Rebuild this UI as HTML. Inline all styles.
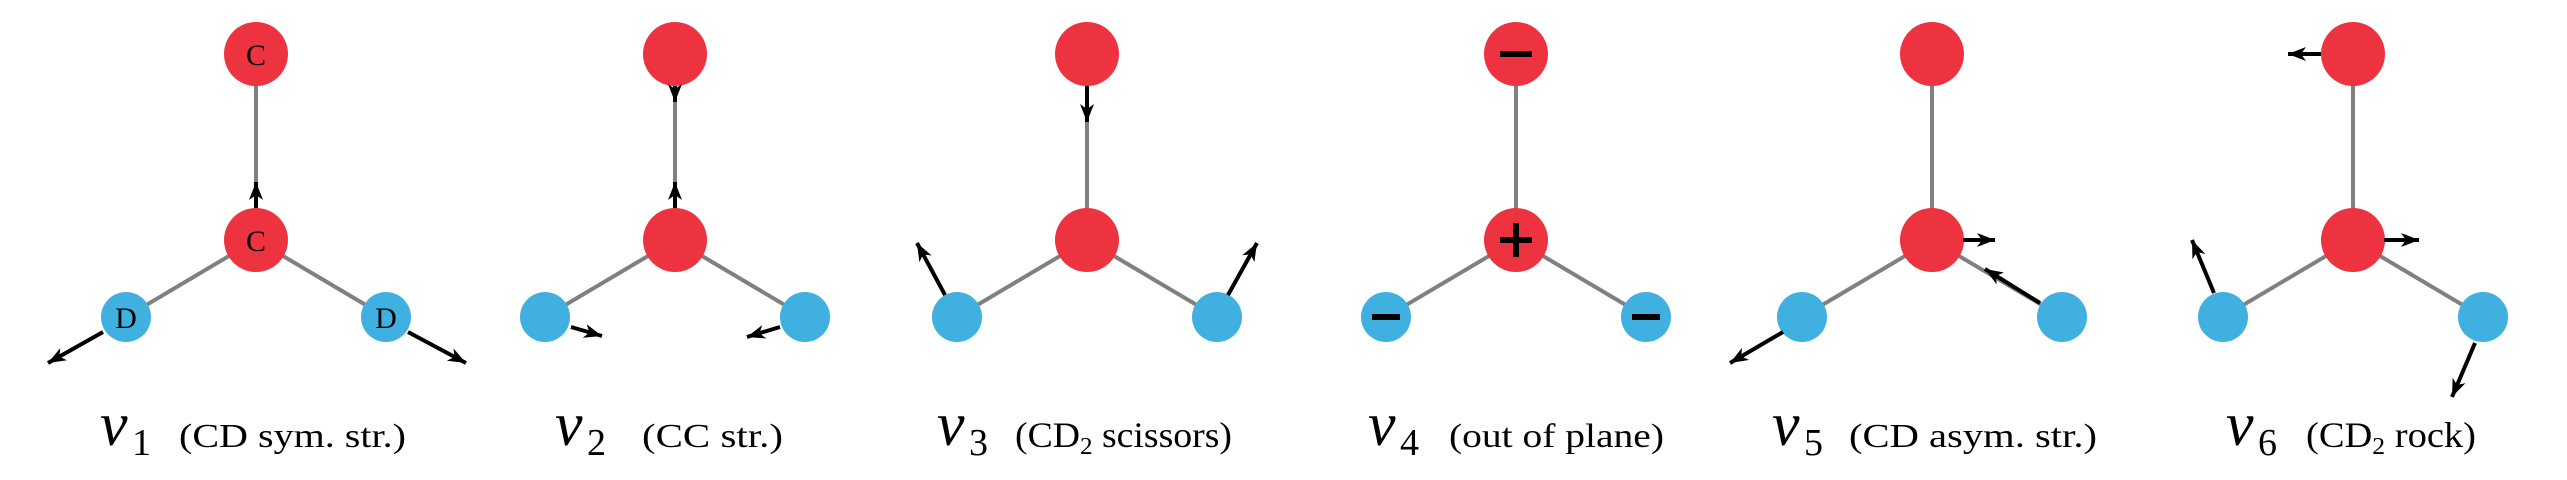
<!DOCTYPE html>
<html><head><meta charset="utf-8"><style>
html,body{margin:0;padding:0;background:#fff;}
svg{display:block;}
</style></head><body>
<svg width="2567" height="480" viewBox="0 0 2567 480" xmlns="http://www.w3.org/2000/svg">
<defs>
<marker id="ah" markerUnits="userSpaceOnUse" markerWidth="20" markerHeight="16" refX="18" refY="7" orient="auto">
<path d="M0,0 L18,7 L0,14 L5,7 Z" fill="#000"/>
</marker>
</defs>
<g stroke="#808080" stroke-width="4">
<line x1="256" y1="54" x2="256" y2="240"/><line x1="256" y1="240" x2="126" y2="317"/><line x1="256" y1="240" x2="386" y2="317"/>
<line x1="675" y1="54" x2="675" y2="240"/><line x1="675" y1="240" x2="545" y2="317"/><line x1="675" y1="240" x2="805" y2="317"/>
<line x1="1087" y1="54" x2="1087" y2="240"/><line x1="1087" y1="240" x2="957" y2="317"/><line x1="1087" y1="240" x2="1217" y2="317"/>
<line x1="1516" y1="54" x2="1516" y2="240"/><line x1="1516" y1="240" x2="1386" y2="317"/><line x1="1516" y1="240" x2="1646" y2="317"/>
<line x1="1932" y1="54" x2="1932" y2="240"/><line x1="1932" y1="240" x2="1802" y2="317"/><line x1="1932" y1="240" x2="2062" y2="317"/>
<line x1="2353" y1="54" x2="2353" y2="240"/><line x1="2353" y1="240" x2="2223" y2="317"/><line x1="2353" y1="240" x2="2483" y2="317"/>
</g>
<g>
<g fill="#EE3340">
<circle cx="256" cy="54" r="32"/><circle cx="256" cy="240" r="32"/>
<circle cx="675" cy="54" r="32"/><circle cx="675" cy="240" r="32"/>
<circle cx="1087" cy="54" r="32"/><circle cx="1087" cy="240" r="32"/>
<circle cx="1516" cy="54" r="32"/><circle cx="1516" cy="240" r="32"/>
<circle cx="1932" cy="54" r="32"/><circle cx="1932" cy="240" r="32"/>
<circle cx="2353" cy="54" r="32"/><circle cx="2353" cy="240" r="32"/>
</g>
<g fill="#3FB0E0">
<circle cx="126" cy="317" r="25"/><circle cx="386" cy="317" r="25"/>
<circle cx="545" cy="317" r="25"/><circle cx="805" cy="317" r="25"/>
<circle cx="957" cy="317" r="25"/><circle cx="1217" cy="317" r="25"/>
<circle cx="1386" cy="317" r="25"/><circle cx="1646" cy="317" r="25"/>
<circle cx="1802" cy="317" r="25"/><circle cx="2062" cy="317" r="25"/>
<circle cx="2223" cy="317" r="25"/><circle cx="2483" cy="317" r="25"/>
</g>
</g>
<g font-family="Liberation Serif, serif" font-size="30" fill="#000" text-anchor="middle">
<text x="256" y="65">C</text><text x="256" y="251">C</text>
<text x="126" y="328">D</text><text x="386" y="328">D</text>
</g>
<g fill="#000">
<rect x="1500" y="51" width="32" height="6"/>
<rect x="1500" y="237" width="32" height="6"/><rect x="1513" y="223" width="6" height="34"/>
<rect x="1372" y="314" width="28" height="6"/>
<rect x="1632" y="314" width="28" height="6"/>
</g>
<g stroke="#000" stroke-width="4" marker-end="url(#ah)" fill="none">
<line x1="256" y1="208" x2="256" y2="182"/>
<line x1="103" y1="332" x2="48" y2="363"/>
<line x1="408" y1="332" x2="466" y2="363"/>
<line x1="675" y1="208" x2="675" y2="182"/>
<line x1="675" y1="86" x2="675" y2="102"/>
<line x1="571" y1="327" x2="602" y2="336"/>
<line x1="780" y1="327" x2="747" y2="337"/>
<line x1="1087" y1="86" x2="1087" y2="122"/>
<line x1="945" y1="295" x2="917" y2="243"/>
<line x1="1228" y1="295" x2="1257" y2="243"/>
<line x1="1963" y1="240" x2="1995" y2="240"/>
<line x1="2040" y1="303" x2="1985" y2="269"/>
<line x1="1783" y1="332" x2="1730" y2="363"/>
<line x1="2321" y1="54" x2="2288" y2="54"/>
<line x1="2384" y1="240" x2="2419" y2="240"/>
<line x1="2214" y1="293" x2="2192" y2="240"/>
<line x1="2475" y1="343" x2="2452" y2="397"/>
</g>
<g font-family="Liberation Serif, serif" fill="#000">
<g font-size="62" font-style="italic">
<text x="100" y="445">ν</text><text x="555" y="445">ν</text><text x="937" y="445">ν</text>
<text x="1368" y="445">ν</text><text x="1772" y="445">ν</text><text x="2226" y="445">ν</text>
</g>
<g font-size="38">
<text x="132" y="455">1</text><text x="587" y="455">2</text><text x="969" y="455">3</text>
<text x="1400" y="455">4</text><text x="1804" y="455">5</text><text x="2258" y="455">6</text>
</g>
<g font-size="34">
<text x="179" y="447" textLength="227" lengthAdjust="spacingAndGlyphs">(CD sym. str.)</text>
<text x="642" y="447" textLength="141" lengthAdjust="spacingAndGlyphs">(CC str.)</text>
<text x="1015" y="447" font-size="36" textLength="217" lengthAdjust="spacingAndGlyphs">(CD<tspan font-size="24" dy="7">2</tspan><tspan dy="-7"> scissors)</tspan></text>
<text x="1449" y="447" textLength="215" lengthAdjust="spacingAndGlyphs">(out of plane)</text>
<text x="1849" y="447" textLength="248" lengthAdjust="spacingAndGlyphs">(CD asym. str.)</text>
<text x="2306" y="447" font-size="36" textLength="170" lengthAdjust="spacingAndGlyphs">(CD<tspan font-size="24" dy="7">2</tspan><tspan dy="-7"> rock)</tspan></text>
</g>
</g>
</svg>
</body></html>
